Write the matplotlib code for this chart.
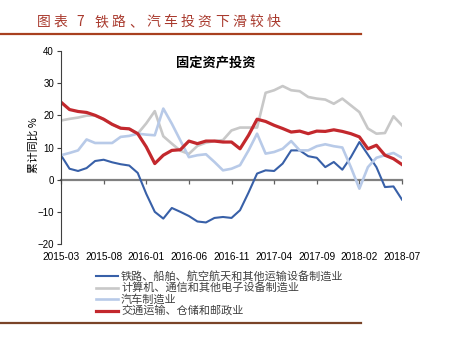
import numpy as np
import pandas as pd
import matplotlib
matplotlib.use('Agg')
import matplotlib.pyplot as plt

plt.rcParams['font.family'] = ['Liberation Sans', 'Noto Sans CJK SC']
cjk = ['Noto Sans CJK SC', 'DejaVu Sans']

# 月度累计同比，2015-03 至 2018-07
meses = pd.period_range('2015-03', '2018-07', freq='M').strftime('%Y-%m').tolist()

ferroviario = [7.6, 3.4, 2.7, 3.6, 5.8, 6.2, 5.4, 4.8, 4.4, 2.1,
               -4.4, -10.0, -12.1, -8.8, -10.0, -11.3, -13.0, -13.3, -11.9, -11.6,
               -11.9, -9.5, -4.0, 1.9, 2.9, 2.7, 5.0, 9.1, 9.1, 7.3,
               6.8, 3.9, 5.5, 3.1, 7.0, 11.7, 7.8, 3.9, -2.3, -2.1, -6.2]
computadoras = [18.4, 18.9, 19.3, 19.9, 20.0, 18.8, 17.2, 16.0, 15.8, 14.3,
                17.5, 21.3, 13.5, 11.2, 9.0, 8.0, 10.5, 11.5, 12.0, 12.3,
                15.3, 16.2, 16.2, 16.2, 27.0, 27.8, 29.1, 27.8, 27.5, 25.7,
                25.2, 24.9, 23.6, 25.2, 23.1, 21.0, 15.9, 14.3, 14.5, 19.7, 16.9]
autos = [7.6, 8.3, 9.1, 12.5, 11.4, 11.4, 11.4, 13.3, 13.6, 14.3,
         14.0, 13.8, 22.1, 17.4, 12.2, 7.0, 7.6, 7.9, 5.5, 2.9,
         3.4, 4.5, 9.1, 14.3, 8.1, 8.6, 9.6, 12.0, 9.1, 9.1,
         10.4, 11.0, 10.4, 10.0, 3.9, -2.8, 3.9, 6.8, 7.6, 8.3, 6.8]
transporte = [24.1, 21.8, 21.2, 20.9, 20.0, 18.8, 17.2, 16.0, 15.8, 14.3,
              10.2, 5.0, 7.6, 9.1, 9.3, 12.0, 11.2, 12.0, 12.0, 11.7,
              11.7, 9.6, 13.8, 18.8, 18.1, 16.9, 15.9, 14.8, 15.1, 14.3,
              15.1, 15.0, 15.5, 15.0, 14.3, 13.3, 9.6, 10.7, 7.6, 6.5, 4.7]

etiquetas = ['铁路、船舶、航空航天和其他运输设备制造业',
             '计算机、通信和其他电子设备制造业',
             '汽车制造业',
             '交通运输、仓储和邮政业']
colores = ['#3860A8', '#C8C8C8', '#B8CAE8', '#C3282D']
grosores = [1.5, 1.9, 1.9, 2.3]

W, H = 449, 348
fig = plt.figure(figsize=(W / 100, H / 100), dpi=100)
ax = fig.add_axes([61 / W, 1 - 244 / H, (402 - 61) / W, (244 - 51) / H])

x = np.arange(len(meses))
for serie, color, lw, nombre in zip([ferroviario, computadoras, autos, transporte],
                                    colores, grosores, etiquetas):
    ax.plot(x, serie, color=color, lw=lw, label=nombre, solid_joinstyle='round')

ax.set_xlim(0, len(meses) - 1)
ax.set_ylim(-20, 40)
ax.set_yticks(range(-20, 41, 10))
ax.tick_params(axis='y', length=3, width=0.8, labelsize=7, pad=2, color='#404040')
for s in ['top', 'right']:
    ax.spines[s].set_visible(False)
ax.spines['left'].set_color('#404040')
ax.spines['left'].set_linewidth(0.8)

# eje de categorías sobre la línea de cero
ax.spines['bottom'].set_position(('data', 0))
ax.spines['bottom'].set_color('#808080')
ax.spines['bottom'].set_linewidth(1.6)
ax.spines['bottom'].set_zorder(0.5)
pos = x[::5]
ax.set_xticks(pos)
ax.tick_params(axis='x', length=3, width=0.9, color='#606060', labelbottom=False)

sec = ax.secondary_xaxis(0.0)
sec.set_xticks(pos)
sec.set_xticklabels([meses[i] for i in pos])
sec.tick_params(length=0, labelsize=7.3, pad=6)
sec.spines['bottom'].set_visible(False)

fig.text(216 / W, 1 - 63 / H, '固定资产投资', family=cjk, fontsize=9.5, fontweight='bold',
         ha='center', va='center')
fig.text(34 / W, 1 - 145 / H, '累计同比 %', family=cjk, fontsize=7.8, rotation=90,
         ha='center', va='center')

# encabezado
rojo = '#A93A2E'
fig.text(43.5 / W, 1 - 22 / H, '图', family=cjk, fontsize=10, color=rojo, ha='center', va='center')
fig.text(60.7 / W, 1 - 22 / H, '表', family=cjk, fontsize=10, color=rojo, ha='center', va='center')
fig.text(80.5 / W, 1 - 22 / H, '7', family=cjk, fontsize=10, color=rojo, ha='center', va='center')
for k, ch in enumerate('铁路、汽车投资下滑较快'):
    fig.text((101.5 + 17.2 * k) / W, 1 - 22 / H, ch, family=cjk, fontsize=10,
             color=rojo, ha='center', va='center')
fig.add_artist(plt.Line2D([0, 361 / W], [1 - 34 / H, 1 - 34 / H], color='#A8401F', lw=1.6))
fig.add_artist(plt.Line2D([0, 361 / W], [1 - 323 / H, 1 - 323 / H], color='#7A4428', lw=1.6))

# leyenda, una fila por serie
for k, (nombre, color, lw) in enumerate(zip(etiquetas, colores, grosores)):
    yf = 1 - (276 + 11.5 * k) / H
    fig.add_artist(plt.Line2D([96 / W, 118 / W], [yf, yf], color=color, lw=lw))
    fig.text(121 / W, yf, nombre, family=cjk, fontsize=8, color='#404040',
             ha='left', va='center')

fig.savefig('out.png', dpi=100)
